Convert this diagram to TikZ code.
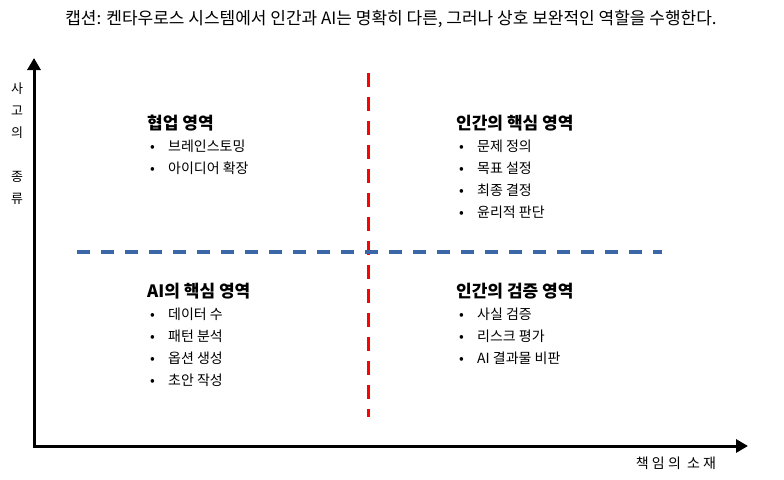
\documentclass[tikz,border=0pt]{standalone}
\usepackage{fontspec}
\setmainfont{Noto Sans CJK KR}
\usepackage{tikz}
\usetikzlibrary{arrows.meta,positioning,calc}
\usepackage{xcolor}
\definecolor{divblue}{HTML}{3B67A8}
\newcommand{\bul}[1]{\hspace*{3pt}\makebox[18pt][l]{•}#1}
\newcommand{\qhead}[1]{{\fontsize{17}{22}\selectfont\bfseries #1}}

\begin{document}
\begin{tikzpicture}[x=1pt, y=-1pt]
    \useasboundingbox (0,0) rectangle (784,479);
    \tikzset{quad/.style={anchor=north west, inner sep=0pt, align=left,
        font=\fontsize{14}{22}\selectfont}}

    \node[font=\fontsize{17}{20}\selectfont] (title) at (391,19)
        {캡션: 켄타우로스 시스템에서 인간과 AI는 명확히 다른, 그러나 상호 보완적인 역할을 수행한다.};

    % Axes
    \coordinate (O) at (34,446);
    \coordinate (xend) at (748,446);
    \coordinate (yend) at (34,58);
    \draw[line width=3pt, {Triangle[length=12pt,width=13pt]}-{Triangle[length=12pt,width=13pt]}]
        (yend) -- (O) -- (xend);

    \node[font=\fontsize{13}{22}\selectfont, align=center, inner sep=0pt] (ylabel) at (17,144)
        {사\\고\\의\\[22pt]종\\류};
    \node[font=\fontsize{14}{16}\selectfont, inner sep=0pt] (xlabel) at (676,463) {책 임 의 \ 소 재};

    % Quadrant dividers
    \coordinate (vtop) at (368,73);
    \coordinate (vbot) at (368,417);
    \draw[red, line width=3pt, dash pattern=on 14pt off 10pt] (vtop) -- (vbot);
    \coordinate (hleft) at (77,252);
    \coordinate (hright) at (662,252);
    \draw[divblue, line width=4pt, dash pattern=on 13pt off 11pt] (hleft) -- (hright);

    % Quadrants
    \node[quad] (collab) at (147,115) {\qhead{협업 영역}\\
        \bul{브레인스토밍}\\ \bul{아이디어 확장}};
    \node[quad] (humancore) at (456,115) {\qhead{인간의 핵심 영역}\\
        \bul{문제 정의}\\ \bul{목표 설정}\\ \bul{최종 결정}\\ \bul{윤리적 판단}};
    \node[quad] (aicore) at (147,283) {\qhead{AI의 핵심 영역}\\
        \bul{데이터 수}\\ \bul{패턴 분석}\\ \bul{옵션 생성}\\ \bul{초안 작성}};
    \node[quad] (humancheck) at (456,283) {\qhead{인간의 검증 영역}\\
        \bul{사실 검증}\\ \bul{리스크 평가}\\ \bul{AI 결과물 비판}};
\end{tikzpicture}
\end{document}
